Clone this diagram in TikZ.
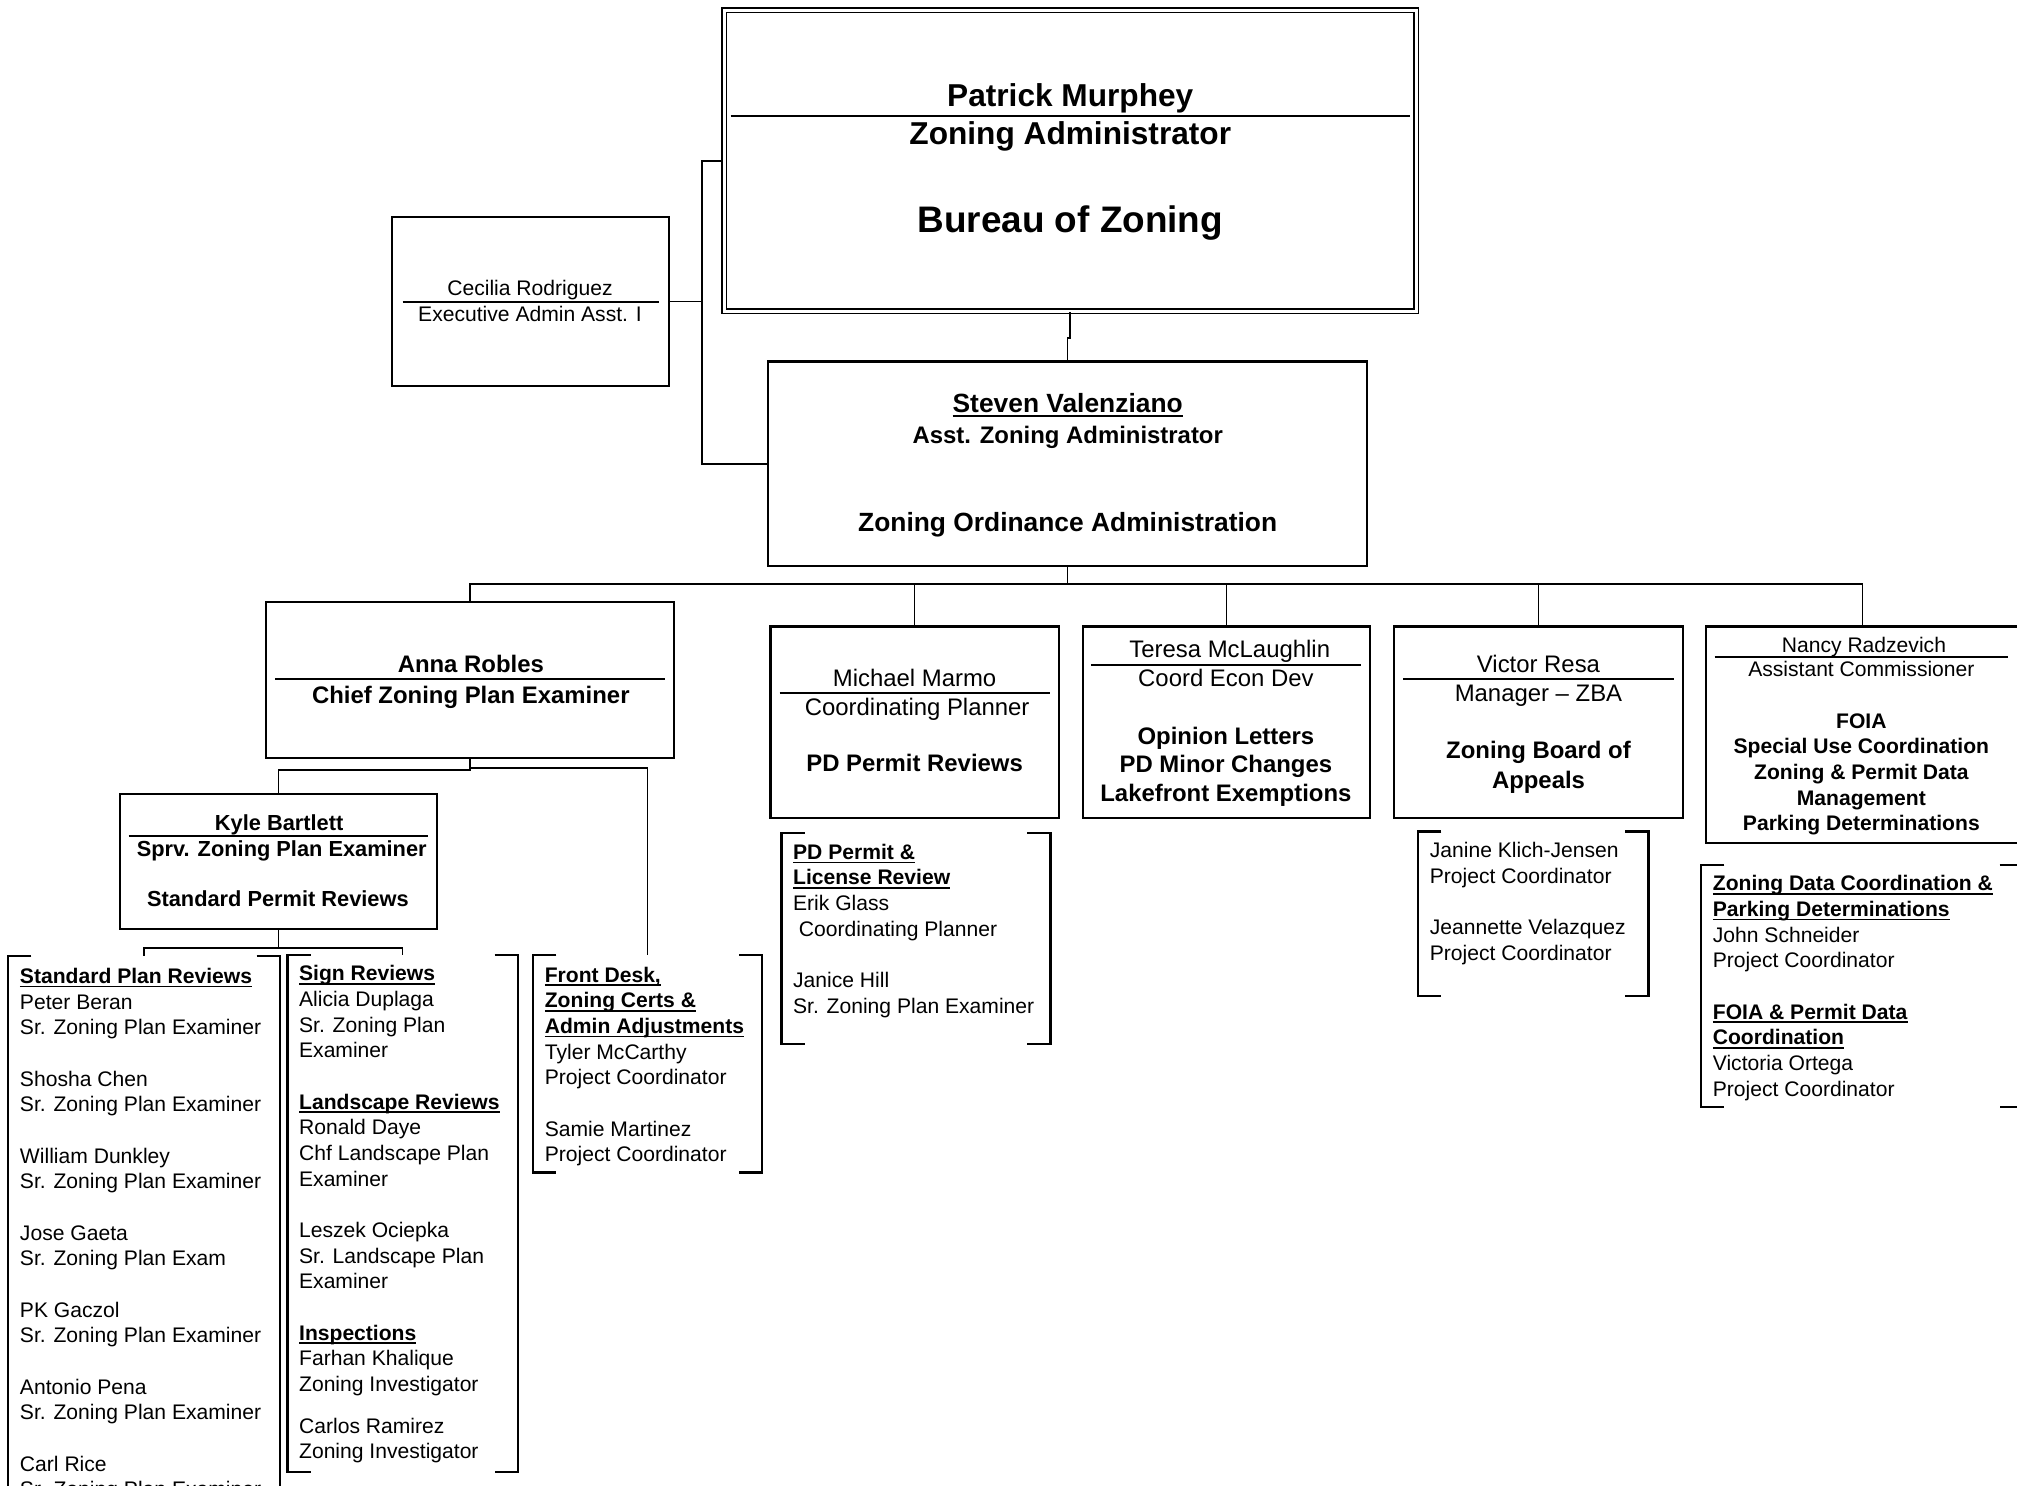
\documentclass[tikz,border=0pt]{standalone}
\usepackage{fontspec}
\setmainfont{Liberation Sans}
\usetikzlibrary{fit}
\newlength\ulnwd
\newcommand\uln[1]{\settowidth\ulnwd{#1}\rlap{\rule[-1.1pt]{\ulnwd}{0.45pt}}#1}
\newcommand\cstack[1]{\begin{tabular}[t]{@{}c@{}}#1\end{tabular}}
\newcommand\lstack[1]{\begin{tabular}[t]{@{}l@{}}#1\end{tabular}}

\begin{document}
\begin{tikzpicture}[x=0.1286mm, y=-0.1286mm,
  box/.style={draw, line width=0.6pt, inner sep=0pt},
  brk/.style={inner sep=0pt},
  brkline/.style={line width=0.65pt},
  wire/.style={line width=0.45pt},
  sep/.style={line width=0.55pt},
  txt/.style={anchor=base, inner sep=0pt},
  lst/.style={anchor=base west, inner sep=0pt, font=\fontsize{6}{7.3}\selectfont}]
\useasboundingbox (0,0) rectangle (1568,1155);
% boxes
\node [name=pm, box, double, line width=0.5pt, double distance=0.28mm, fit={(563,8) (1101,242)}] {};
\node [name=cr, box, fit={(305,169) (520,300)}] {};
\node [name=sv, box, fit={(597,281) (1063,440)}] {};
\node [name=ar, box, fit={(207,468) (524,589)}] {};
\node [name=kb, box, fit={(93,617) (340,722)}] {};
\node [name=mm, box, fit={(599,487) (823,636)}] {};
\node [name=tm, box, fit={(842,487) (1065,636)}] {};
\node [name=vr, box, fit={(1084,487) (1308,636)}] {};
\node [name=nr, box, fit={(1326,487) (1570,655)}] {};
% bracketed lists
\node [name=sp, brk, fit={(7,744) (217,1175)}] {};
\node [name=sr, brk, fit={(224,743) (402,1144)}] {};
\node [name=fd, brk, fit={(415,743) (592,911)}] {};
\node [name=pd, brk, fit={(608,648) (816,811)}] {};
\node [name=zb, brk, fit={(1103,647) (1281,774)}] {};
\node [name=nd, brk, fit={(1323,673) (1572,860)}] {};
\foreach \b in {sp,sr,fd,pd,zb,nd} {
  \draw [brkline] (\b.north west) ++(18,0) -- (\b.north west) -- (\b.south west) -- ++(18,0);
  \draw [brkline] (\b.north east) ++(-18,0) -- (\b.north east) -- (\b.south east) -- ++(-18,0);
}
% connectors
\draw [wire] (cr.east) -- ++(25,0) |- (pm.west);
\draw [wire] (cr.east) -- ++(25,0) |- (sv.west);
\draw [wire] (pm.south) -- ++(0,20) -| (sv.north);
\draw [wire] (sv.south) -- ++(0,13) coordinate (bus);
\foreach \n in {ar,mm,tm,vr,nr}
  \draw [wire] (bus) -| (\n.north);
\draw [wire] (ar.south) -- ++(0,9) -| (kb.north);
\draw [wire] (ar.south) ++(0,7) -| (fd.north);
\draw [wire] (kb.south) -- ++(0,14) coordinate (kbus);
\draw [wire] (kbus) -| (sp.north);
\draw [wire] (kbus) -| (sr.north);
% rules under the names
\draw [sep] (568,90) -- (1096,90);
\draw [sep] (313,235) -- (512,235);
\draw [sep] (214,528) -- (517,528);
\draw [sep] (100,650) -- (333,650);
\draw [sep] (606,539) -- (816,539);
\draw [sep] (848,517) -- (1058,517);
\draw [sep] (1091,528) -- (1301,528);
\draw [sep] (1333,511) -- (1561,511);
% texts in the boxes
\node at (832,83) [name=pmname, txt, font=\fontsize{9}{11}\selectfont\bfseries] {Patrick Murphey};
\node at (832,112) [name=pmjob, txt, font=\fontsize{9}{11}\selectfont\bfseries] {Zoning Administrator};
\node at (832,181) [name=pmunit, txt, font=\fontsize{10.5}{12}\selectfont\bfseries] {Bureau of Zoning};
\node at (412,230) [name=crname, txt, font=\fontsize{6}{7.3}\selectfont] {Cecilia Rodriguez};
\node at (412,250) [name=crjob, txt, font=\fontsize{6}{7.3}\selectfont] {Executive Admin Asst. I};
\node at (830,321) [name=svname, txt, font=\fontsize{7.5}{9}\selectfont\bfseries] {\uln{Steven Valenziano}};
\node at (830,345) [name=svjob, txt, font=\fontsize{6.8}{8}\selectfont\bfseries] {Asst. Zoning Administrator};
\node at (830,413) [name=svunit, txt, font=\fontsize{7.5}{9}\selectfont\bfseries] {Zoning Ordinance Administration};
\node at (366,523) [name=arname, txt, font=\fontsize{6.8}{8}\selectfont\bfseries] {Anna Robles};
\node at (366,547) [name=arjob, txt, font=\fontsize{6.8}{8}\selectfont\bfseries] {Chief Zoning Plan Examiner};
\node at (217,646) [name=kbname, txt, font=\fontsize{6.2}{7.5}\selectfont\bfseries] {Kyle Bartlett};
\node at (219,666) [name=kbjob, txt, font=\fontsize{6.2}{7.5}\selectfont\bfseries] {Sprv. Zoning Plan Examiner};
\node at (216,705) [name=kbunit, txt, font=\fontsize{6.2}{7.5}\selectfont\bfseries] {Standard Permit Reviews};
\node at (711,534) [name=mmname, txt, font=\fontsize{6.8}{8}\selectfont] {Michael Marmo};
\node at (713,556) [name=mmjob, txt, font=\fontsize{6.8}{8}\selectfont] {Coordinating Planner};
\node at (711,600) [name=mmunit, txt, font=\fontsize{6.8}{8}\selectfont\bfseries] {PD Permit Reviews};
\node at (956,511) [name=tmname, txt, font=\fontsize{6.8}{8}\selectfont] {Teresa McLaughlin};
\node at (953,534) [name=tmjob, txt, font=\fontsize{6.8}{8}\selectfont] {Coord Econ Dev};
\node at (953,579) [name=tmunit, txt, font=\fontsize{6.8}{8}\selectfont\bfseries] {\cstack{Opinion Letters\\PD Minor Changes\\Lakefront Exemptions}};
\node at (1196,523) [name=vrname, txt, font=\fontsize{6.8}{8}\selectfont] {Victor Resa};
\node at (1196,545) [name=vrjob, txt, font=\fontsize{6.8}{8}\selectfont] {Manager -- ZBA};
\node at (1196,590) [name=vrunit, txt, font=\fontsize{6.8}{8.3}\selectfont\bfseries] {\cstack{Zoning Board of\\Appeals}};
\node at (1449,507) [name=nrname, txt, font=\fontsize{6}{7.3}\selectfont] {Nancy Radzevich};
\node at (1447,526) [name=nrjob, txt, font=\fontsize{6}{7.3}\selectfont] {Assistant Commissioner};
\node at (1447,566) [name=nrunit, txt, font=\fontsize{6}{7.3}\selectfont\bfseries] {\cstack{FOIA\\Special Use Coordination\\Zoning \& Permit Data\\Management\\Parking Determinations}};
% texts in the brackets
\node at (15,764.5) [name=splist, lst] {\lstack{\uln{\textbf{Standard Plan Reviews}}\\
  Peter Beran\\ Sr. Zoning Plan Examiner\\[7.3pt]
  Shosha Chen\\ Sr. Zoning Plan Examiner\\[7.3pt]
  William Dunkley\\ Sr. Zoning Plan Examiner\\[7.3pt]
  Jose Gaeta\\ Sr. Zoning Plan Exam\\[7.3pt]
  PK Gaczol\\ Sr. Zoning Plan Examiner\\[7.3pt]
  Antonio Pena\\ Sr. Zoning Plan Examiner\\[7.3pt]
  Carl Rice\\ Sr. Zoning Plan Examiner}};
\node at (232,762.5) [name=srlist, lst] {\lstack{\uln{\textbf{Sign Reviews}}\\
  Alicia Duplaga\\ Sr. Zoning Plan\\ Examiner\\[7.3pt]
  \uln{\textbf{Landscape Reviews}}\\
  Ronald Daye\\ Chf Landscape Plan\\ Examiner\\[7.3pt]
  Leszek Ociepka\\ Sr. Landscape Plan\\ Examiner\\[7.3pt]
  \uln{\textbf{Inspections}}\\
  Farhan Khalique\\ Zoning Investigator\\[4.6pt]
  Carlos Ramirez\\ Zoning Investigator}};
\node at (423,763.5) [name=fdlist, lst] {\lstack{\uln{\textbf{Front Desk,}}\\
  \uln{\textbf{Zoning Certs \&}}\\ \uln{\textbf{Admin Adjustments}}\\
  Tyler McCarthy\\ Project Coordinator\\[7.3pt]
  Samie Martinez\\ Project Coordinator}};
\node at (616,668) [name=pdlist, lst] {\lstack{\uln{\textbf{PD Permit \&}}\\
  \uln{\textbf{License Review}}\\
  Erik Glass\\ \ Coordinating Planner\\[7.3pt]
  Janice Hill\\ Sr. Zoning Plan Examiner}};
\node at (1111,667) [name=zblist, lst] {\lstack{Janine Klich-Jensen\\ Project Coordinator\\[7.3pt]
  Jeannette Velazquez\\ Project Coordinator}};
\node at (1331,692.5) [name=ndlist, lst] {\lstack{\uln{\textbf{Zoning Data Coordination \&}}\\
  \uln{\textbf{Parking Determinations}}\\
  John Schneider\\ Project Coordinator\\[7.3pt]
  \uln{\textbf{FOIA \& Permit Data}}\\ \uln{\textbf{Coordination}}\\
  Victoria Ortega\\ Project Coordinator}};
\end{tikzpicture}
\end{document}
